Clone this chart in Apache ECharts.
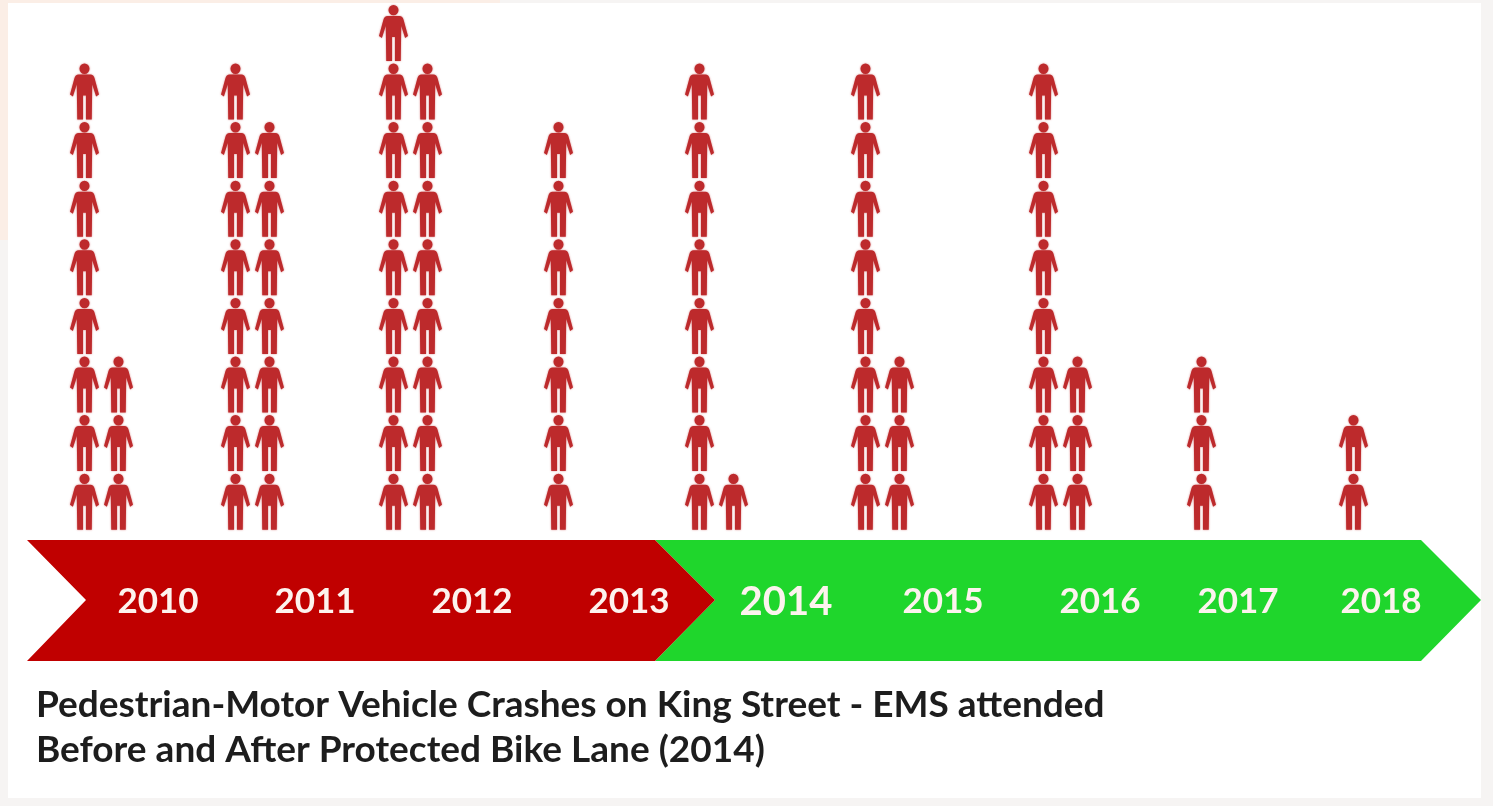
<!DOCTYPE html>
<html>
<head>
<meta charset="utf-8">
<title>Pedestrian-Motor Vehicle Crashes on King Street</title>
<script src="https://cdn.jsdelivr.net/npm/echarts@6/dist/echarts.min.js"></script>
<style>
html, body { margin: 0; padding: 0; background: #f6f4f3; }
#main { width: 1493px; height: 806px; }
</style>
</head>
<body>
<div id="main"></div>
<script>
var years = ['2010', '2011', '2012', '2013', '2014', '2015', '2016', '2017', '2018'];
// people in the first and second stack of each year
var firstStack = [8, 8, 9, 7, 8, 8, 8, 3, 2];
var secondStack = [3, 7, 8, 0, 1, 3, 3, 0, 0];
var titleLines = [
    'Pedestrian-Motor Vehicle Crashes on King Street - EMS attended',
    'Before and After Protected Bike Lane (2014)'
];

// layout only, the stacks are not evenly spaced in the original
var stackX = [84.5, 235.5, 393.5, 558.5, 699.5, 865.5, 1043.5, 1201.5, 1353.5];
var stackGap = 34;
var labelX = [158, 315, 472, 629, 786, 943, 1100, 1238, 1381];

var person = 'path://M9.8 5.2A5.2 5.2 0 1 1 20.2 5.2A5.2 5.2 0 1 1 9.8 5.2Z' +
    'M9 11L21 11Q24.5 11 25.5 15L30 31L27 33L23 21L22.5 56L16.5 56L16.5 32L13.5 32L13.5 56L7.5 56L7 21L3 33L0 31L4.5 15Q5.5 11 9 11Z';

function stackData(counts, shift) {
    var result = [];
    for (var i = 0; i < counts.length; i++) {
        if (counts[i] > 0) {
            result.push([stackX[i] + shift, counts[i]]);
        }
    }
    return result;
}

function stackSeries(counts, shift) {
    return {
        type: 'pictorialBar',
        symbol: person,
        symbolSize: [29, 56],
        symbolRepeat: true,
        symbolMargin: '1.3!',
        symbolPosition: 'start',
        itemStyle: { color: '#bd2a2c', shadowBlur: 2, shadowColor: 'rgba(189,42,44,0.6)' },
        data: stackData(counts, shift)
    };
}

var graphics = [
    { type: 'rect', z: -2, shape: { x: 8, y: 3, width: 1473, height: 795 }, style: { fill: '#ffffff' } },
    { type: 'rect', z: -3, shape: { x: 0, y: 0, width: 8, height: 240 }, style: { fill: '#fbeee6' } },
    { type: 'rect', z: -3, shape: { x: 0, y: 0, width: 500, height: 3 }, style: { fill: '#fbeee6' } },
    { type: 'polygon', z: -1, shape: { points: [[655, 540], [1421, 540], [1481, 600], [1421, 661], [655, 661], [715, 600]] }, style: { fill: '#1fd62c' } },
    { type: 'polygon', z: -1, shape: { points: [[27, 540], [655, 540], [715, 600], [655, 661], [27, 661], [86, 600]] }, style: { fill: '#c00000' } }
];

for (var i = 0; i < years.length; i++) {
    graphics.push({
        type: 'text',
        x: labelX[i],
        y: 602,
        style: {
            text: years[i],
            x: 0,
            y: 0,
            align: 'center',
            verticalAlign: 'middle',
            fill: '#fdf3ee',
            font: 'bold ' + (years[i] === '2014' ? 40 : 35) + 'px Lato'
        }
    });
}

for (var j = 0; j < titleLines.length; j++) {
    graphics.push({
        type: 'text',
        x: 36,
        y: 705 + j * 45,
        style: {
            text: titleLines[j],
            x: 0,
            y: 0,
            align: 'left',
            verticalAlign: 'middle',
            fill: '#1d1d1d',
            font: 'bold 37px Lato'
        }
    });
}

var chart = echarts.init(document.getElementById('main'));
var option = {
    animation: false,
    backgroundColor: 'transparent',
    grid: { left: 0, right: 0, top: 3.6, bottom: 275 },
    xAxis: { type: 'value', min: 0, max: 1493, show: false },
    yAxis: { type: 'value', min: 0, max: 9, show: false },
    graphic: graphics,
    series: [
        stackSeries(firstStack, 0),
        stackSeries(secondStack, stackGap)
    ]
};
chart.setOption(option);
</script>
</body>
</html>
